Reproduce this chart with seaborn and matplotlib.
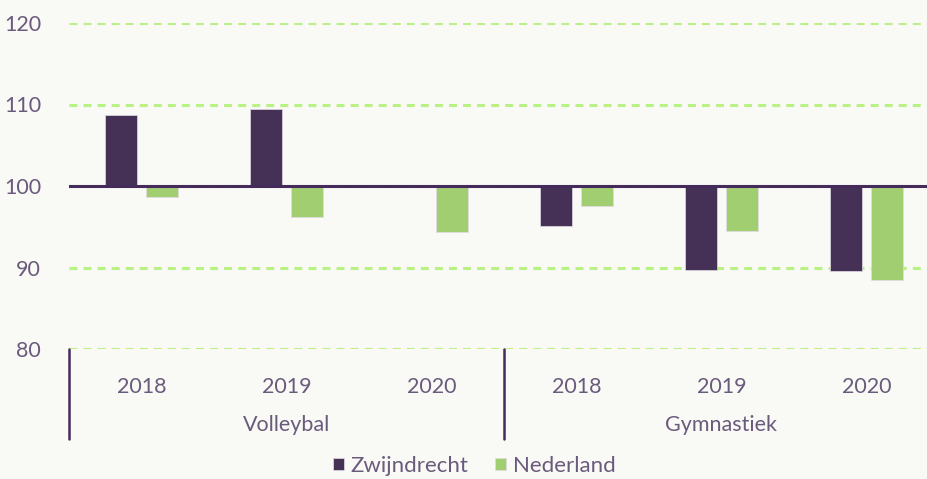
import pandas as pd
import numpy as np
import matplotlib.pyplot as plt
import seaborn as sns
from matplotlib.ticker import FuncFormatter

# Data (index = 100)
sports = ['Volleybal', 'Volleybal', 'Volleybal', 'Gymnastiek', 'Gymnastiek', 'Gymnastiek']
years = ['2018', '2019', '2020', '2018', '2019', '2020']
zwijndrecht = [108.7, 109.5, np.nan, 95.1, 89.7, 89.6]
nederland = [98.6, 96.2, 94.4, 97.5, 94.5, 88.5]
series = ['Zwijndrecht', 'Nederland']
groups = ['Volleybal', 'Gymnastiek']

purple = '#452b5c'
green = '#a0dd62'
grid_green = '#b9f282'
text_col = '#6a5a7c'
bg = '#f9f9f5'

rows = []
for i in range(len(years)):
    rows.append({'pos': i, 'serie': 'Zwijndrecht', 'diff': zwijndrecht[i] - 100})
    rows.append({'pos': i, 'serie': 'Nederland', 'diff': nederland[i] - 100})
df = pd.DataFrame(rows)

sns.set_style("white")
plt.rcParams['font.family'] = ['Lato', 'DejaVu Sans']

fig = plt.figure(figsize=(9.28, 4.79), dpi=100, facecolor=bg)
ax = fig.add_axes([69 / 928, 1 - 349 / 479, 870 / 928, 326 / 479])
ax.set_facecolor(bg)

sns.barplot(data=df, x='pos', y='diff', hue='serie', hue_order=series,
            palette=[purple, green], width=0.566, gap=0.22,
            edgecolor='#e2dbe6', linewidth=0.5, ax=ax, zorder=3)

ax.set_ylim(-20, 20)
ax.set_xlim(-0.5, 5.5)
ax.set_yticks([-20, -10, 0, 10, 20])
ax.yaxis.set_major_formatter(FuncFormatter(lambda v, p: f'{int(round(v + 100))}'))
ax.set_xticks(range(6))
ax.set_xticklabels(years)
ax.set_xlabel('')
ax.set_ylabel('')

for s in ax.spines.values():
    s.set_visible(False)

ax.grid(axis='y', color=grid_green, linestyle=(0, (2.6, 2.0)), linewidth=2.2, zorder=0)
ax.grid(axis='x', visible=False)
ax.axhline(0, color=purple, linewidth=2.2, zorder=5)

ax.tick_params(axis='y', length=0, pad=20, labelsize=15.5, labelcolor=text_col)
ax.tick_params(axis='x', length=0, pad=20, labelsize=15.5, labelcolor=text_col)

# group separators and group labels
tr = ax.get_xaxis_transform()
for xv in [-0.5, 2.5]:
    ax.plot([xv, xv], [0, -0.276], transform=tr, color=purple, linewidth=1.8, clip_on=False)
ax.text(1, -0.233, groups[0], transform=tr, ha='center', va='center', fontsize=15.5, color=text_col)
ax.text(4, -0.233, groups[1], transform=tr, ha='center', va='center', fontsize=15.5, color=text_col)

sns.move_legend(ax, loc='center', bbox_to_anchor=((474 - 69) / 870, (349 - 466) / 326),
                ncol=2, frameon=False, title=None, fontsize=16, handlelength=0.5,
                handleheight=0.5, handletextpad=0.3, columnspacing=1.2,
                labelcolor=text_col, borderpad=0.1)

fig.savefig('out.png', dpi=100, facecolor=bg)
